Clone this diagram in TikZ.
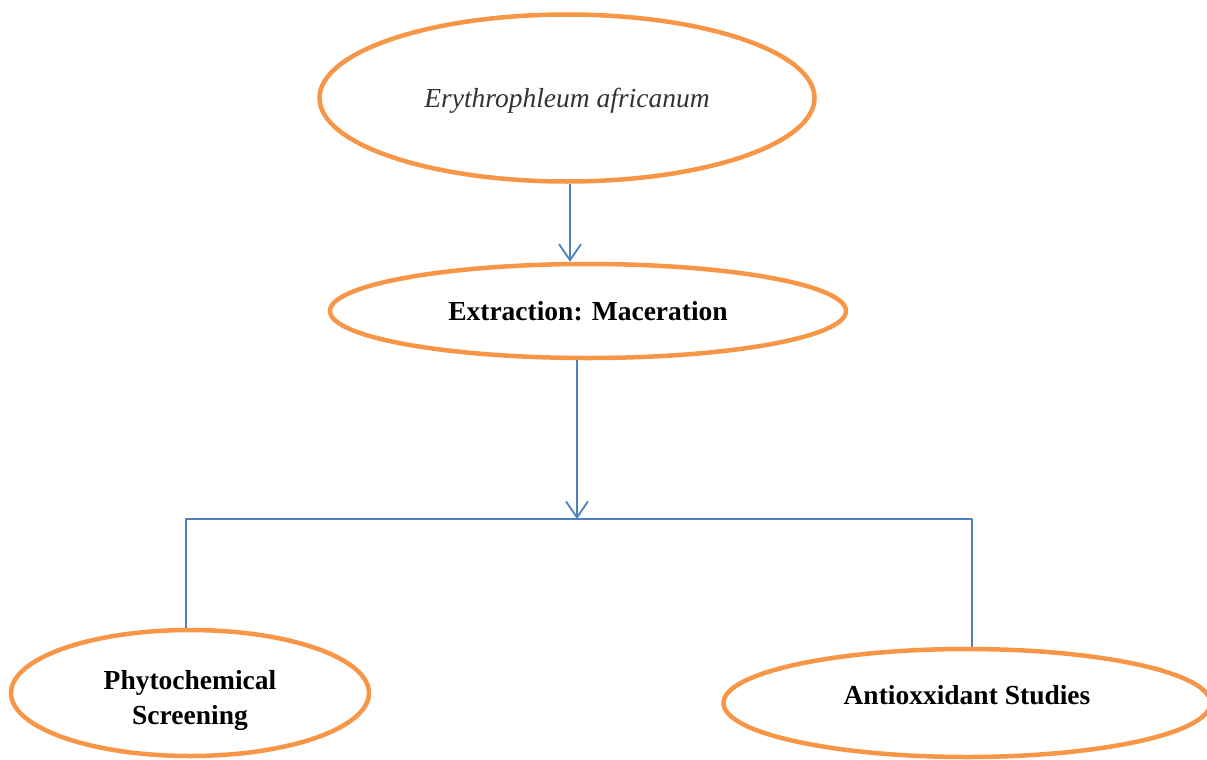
\documentclass[tikz,border=0pt]{standalone}
\usepackage{fontspec}
\setmainfont{Liberation Serif}
\usetikzlibrary{shapes.geometric,arrows.meta}
\definecolor{boxorange}{RGB}{247,150,70}
\definecolor{lineblue}{RGB}{79,129,189}
\tikzset{
  oval/.style={ellipse,draw=boxorange,line width=4.5pt,inner sep=0pt,align=center,
    font=\fontsize{27.5}{35}\selectfont\bfseries},
  link/.style={draw=lineblue,line width=1.8pt},
  arr/.style={link,-{Straight Barb[length=16pt,width=22pt,line width=1.8pt]}}
}
\newcommand\nudge[2]{\raisebox{#1}[\height][\depth]{#2}}
\begin{document}
\begin{tikzpicture}[x=1pt,y=-1pt,line join=round]
  \useasboundingbox[clip] (0,0) rectangle (1207,760);
  \fill[white] (0,0) rectangle (1207,760);
  % ovals
  \node[oval,minimum width=495pt,minimum height=167pt,
    font=\fontsize{27.5}{35}\selectfont\itshape,text=black!80] (plant) at (567,98) {\nudge{-3pt}{Erythrophleum africanum}};
  \node[oval,minimum width=516pt,minimum height=94pt] (extract) at (588,311) {Extraction: Maceration};
  \node[oval,minimum width=358pt,minimum height=126pt] (phyto) at (190,693)
    {\nudge{-7pt}{\begin{tabular}{@{}c@{}}Phytochemical\\Screening\end{tabular}}};
  \node[oval,minimum width=487pt,minimum height=108pt] (antiox) at (967,703) {\nudge{8pt}{Antioxxidant Studies}};
  % connectors
  \coordinate (split) at (577,519);
  \coordinate (lft) at (186,519);
  \coordinate (rgt) at (972,519);
  \draw[arr] (plant.south -| 570,0) -- (extract.north -| 570,0);
  \draw[arr] (extract.south -| split) -- (split);
  \draw[link] (phyto.north -| lft) -- (lft) -- (rgt) -- (antiox.north -| rgt);
\end{tikzpicture}
\end{document}
